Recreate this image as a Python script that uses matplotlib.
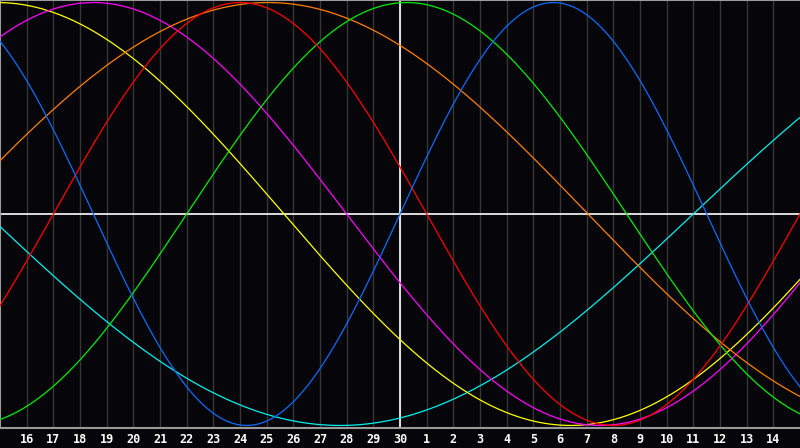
import matplotlib

matplotlib.use("Agg")
import matplotlib.pyplot as plt
import numpy as np

# day labels along the bottom, one per grid line (positions 1..29)
day_labels = [16, 17, 18, 19, 20, 21, 22, 23, 24, 25, 26, 27, 28, 29, 30,
              1, 2, 3, 4, 5, 6, 7, 8, 9, 10, 11, 12, 13, 14]

# biorhythm cycles: period in days and the day position where each curve crosses zero upwards
cycle_names = ["spiritual", "aesthetic", "intuition", "awareness", "intellectual", "emotional", "physical"]
cycle_periods = [53, 43, 38, 48, 33, 28, 23]
cycle_zero_up = [26.0, -10.85, -6.0, -1.95, 7.0, 2.0, 15.0]
cycle_colors = ["#00f0f0", "#ffff00", "#ff00ff", "#ff7f00", "#00ee00", "#ff0000", "#0a6cff"]

BG = "#060509"
N_DAYS = 30

fig = plt.figure(figsize=(8.0, 4.48), dpi=100, facecolor=BG)
ax = fig.add_axes([0, 20 / 448, 1, 428 / 448])
ax.set_facecolor(BG)

# day grid
for d in range(1, N_DAYS):
    ax.axvline(d, color="#363636", lw=1.0, zorder=1)

ax.axhline(0, color="white", lw=1.2, zorder=2)
ax.axvline(N_DAYS / 2, color="white", lw=1.2, zorder=2)

t = np.linspace(0, N_DAYS, 1200)
for name, period, zero, color in zip(cycle_names, cycle_periods, cycle_zero_up, cycle_colors):
    ax.plot(t, np.sin(2 * np.pi * (t - zero) / period), color=color, lw=0.9, zorder=3, label=name)

ax.set_xlim(0, N_DAYS)
ax.set_ylim(-1.012, 1.012)
ax.set_xticks([])
ax.set_yticks([])
for side in ["top", "left", "bottom"]:
    ax.spines[side].set_color("#9a9a9a")
    ax.spines[side].set_linewidth(1.5)
ax.spines["right"].set_visible(False)

for i, lab in enumerate(day_labels, start=1):
    fig.text(i / N_DAYS, 9 / 448, str(lab), color="white", ha="center", va="center",
             fontsize=8.5, fontweight="bold", family="DejaVu Sans Mono")

fig.savefig("out.png", dpi=100, facecolor=BG)
